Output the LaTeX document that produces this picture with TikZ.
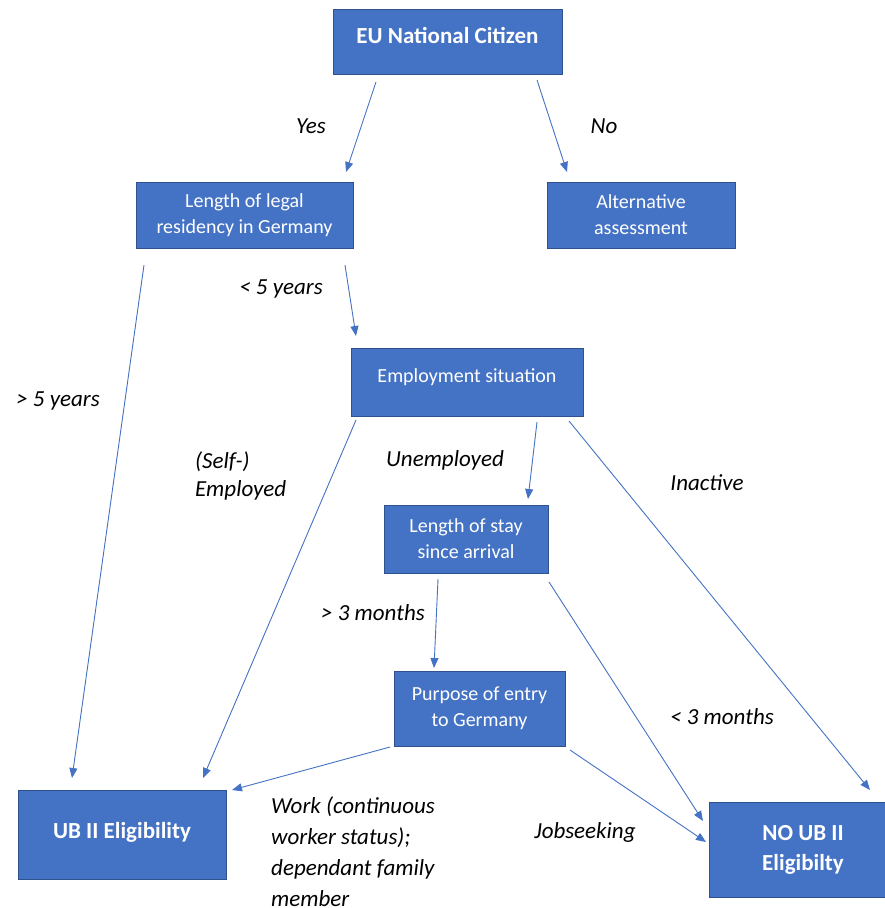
\documentclass[tikz,border=0pt]{standalone}
\usepackage{fontspec}
\setmainfont{Carlito}
\usetikzlibrary{arrows.meta}
\definecolor{boxblue}{HTML}{4472C4}
\definecolor{boxedge}{HTML}{2F528F}
\begin{document}
\begin{tikzpicture}[x=1pt,y=-1pt,
  box/.style={draw=boxedge, line width=0.8pt, fill=boxblue, text=white, inner sep=0pt, align=center, font=\fontsize{20}{26}\selectfont},
  bigbox/.style={box, font=\bfseries\fontsize{23}{30}\selectfont},
  lbl/.style={font=\itshape\fontsize{23}{31}\selectfont, text=black, inner sep=0pt},
  arr/.style={draw=boxblue, line width=0.9pt, -{Triangle[length=10pt,width=8pt]}}]
\useasboundingbox (0,0) rectangle (885,908);

% boxes
\node[bigbox, minimum width=229, minimum height=65] (eu) at (447.5,41.5) {\raisebox{12pt}{EU National Citizen}};
\node[box, minimum width=217, minimum height=66] (legal) at (244.5,215) {Length of legal\\residency in Germany};
\node[box, minimum width=188, minimum height=66] (alt) at (641,215) {Alternative\\assessment};
\node[box, minimum width=232, minimum height=68] (emp) at (467,382) {\raisebox{12pt}{Employment situation}};
\node[box, minimum width=164, minimum height=68] (stay) at (466,539) {Length of stay\\since arrival};
\node[box, minimum width=171, minimum height=75] (purp) at (479.5,708.5) {\raisebox{6pt}{\begin{tabular}{@{}c@{}}Purpose of entry\\to Germany\end{tabular}}};
\node[bigbox, minimum width=208, minimum height=89] (ub) at (122,834.5) {\raisebox{9pt}{UB II Eligibility}};
\node[bigbox, minimum width=188, minimum height=95] (noub) at (803,849.5) {\raisebox{12pt}{\begin{tabular}{@{}c@{}}NO UB II\\Eligibilty\end{tabular}}};

% connector end points
\coordinate (yesS) at (376,82);   \coordinate (yesE) at (346,172);
\coordinate (noS) at (537,80);    \coordinate (noE) at (567,172);
\coordinate (gtS) at (144,265);   \coordinate (gtE) at (72,778);
\coordinate (ltS) at (345,265);   \coordinate (ltE) at (356,336);
\coordinate (selfS) at (356,420); \coordinate (selfE) at (203,778);
\coordinate (unS) at (537,422);   \coordinate (unE) at (528,499);
\coordinate (inS) at (569,421);   \coordinate (inE) at (870,790);
\coordinate (mgS) at (438,579);   \coordinate (mgE) at (434,668);
\coordinate (mlS) at (549,582);   \coordinate (mlE) at (703,821);
\coordinate (wkS) at (390,747);   \coordinate (wkE) at (232,790);
\coordinate (jbS) at (570,750);   \coordinate (jbE) at (706,842);

\draw[arr] (yesS) -- (yesE);
\draw[arr] (noS) -- (noE);
\draw[arr] (gtS) -- (gtE);
\draw[arr] (ltS) -- (ltE);
\draw[arr] (selfS) -- (selfE);
\draw[arr] (unS) -- (unE);
\draw[arr] (inS) -- (inE);
\draw[arr] (mgS) -- (mgE);
\draw[arr] (mlS) -- (mlE);
\draw[arr] (wkS) -- (wkE);
\draw[arr] (jbS) -- (jbE);

% labels
\node[lbl, anchor=base] (lyes) at (311,133) {Yes};
\node[lbl, anchor=base] (lno) at (604,133) {No};
\node[lbl, anchor=base] (llt5) at (281,294) {< 5 years};
\node[lbl, anchor=base] (lgt5) at (58,406) {> 5 years};
\node[lbl, anchor=base west] (lself) at (195,468) {\begin{tabular}[t]{@{}l@{}}(Self-)\\[-3pt]Employed\end{tabular}};
\node[lbl, anchor=base] (lun) at (445,466) {Unemployed};
\node[lbl, anchor=base] (lin) at (707,490) {Inactive};
\node[lbl, anchor=base] (lgt3) at (373,620) {> 3 months};
\node[lbl, anchor=base] (llt3) at (722,724) {< 3 months};
\node[lbl, anchor=base west] (lwork) at (271,813) {\begin{tabular}[t]{@{}l@{}}Work (continuous\\worker status);\\dependant family\\member\end{tabular}};
\node[lbl, anchor=base] (ljob) at (585,838) {Jobseeking};
\end{tikzpicture}
\end{document}
